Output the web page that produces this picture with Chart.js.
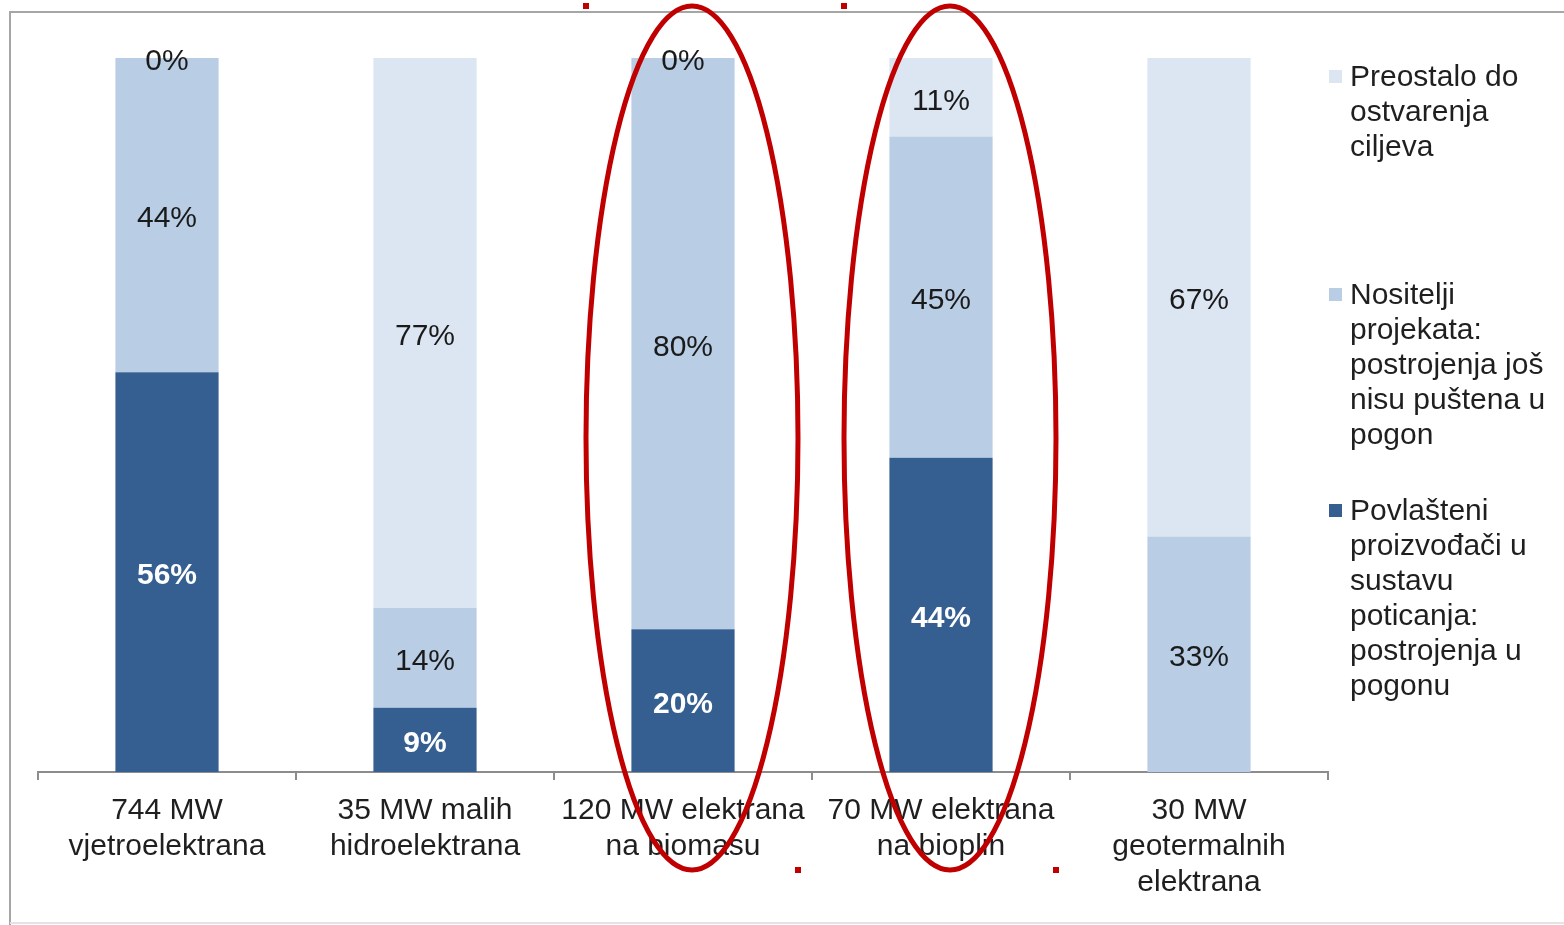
<!DOCTYPE html>
<html>
<head>
<meta charset="utf-8">
<script src="https://cdn.jsdelivr.net/npm/chart.js@4"></script>
<style>
  html, body { margin: 0; padding: 0; background: #fff; overflow: hidden; }
  #wrap { width: 1564px; height: 925px; position: relative; }
</style>
</head>
<body>
<div id="wrap"><canvas id="chart" width="1564" height="925"></canvas></div>
<script>
// categories (multi-line tick labels)
const categories = [
    ["744 MW", "vjetroelektrana"],
    ["35 MW malih", "hidroelektrana"],
    ["120 MW elektrana", "na biomasu"],
    ["70 MW elektrana", "na bioplin"],
    ["30 MW", "geotermalnih", "elektrana"]
];

// series values, in % (bottom to top of each stack)
const inOperation = [56, 9, 20, 44, 0];
const notYetOperating = [44, 14, 80, 45, 33];
const remaining = [0, 77, 0, 11, 67];

// legend text, already wrapped the way the original shows it
const legendInOperation = ["Povlašteni", "proizvođači u", "sustavu", "poticanja:", "postrojenja u", "pogonu"];
const legendNotYet = ["Nositelji", "projekata:", "postrojenja još", "nisu puštena u", "pogon"];
const legendRemaining = ["Preostalo do", "ostvarenja", "ciljeva"];

// categories that are circled in red
const highlighted = [2, 3];

const FONT = '"Liberation Sans", Arial, sans-serif';

// white background and the grey frame of the slide
const framePlugin = {
    id: 'frame',
    beforeDraw(chart) {
        const ctx = chart.ctx;
        ctx.save();
        ctx.fillStyle = '#fff';
        ctx.fillRect(0, 0, chart.width, chart.height);
        ctx.strokeStyle = '#a6a6a6';
        ctx.lineWidth = 2;
        ctx.beginPath();
        ctx.moveTo(10, chart.height);
        ctx.lineTo(10, 12);
        ctx.lineTo(chart.width, 12);
        ctx.stroke();
        ctx.strokeStyle = '#e4e4e4';
        ctx.beginPath();
        ctx.moveTo(10, chart.height - 2);
        ctx.lineTo(chart.width, chart.height - 2);
        ctx.stroke();
        ctx.restore();
    }
};

// percentage labels inside each segment
const segmentLabels = {
    id: 'segmentLabels',
    afterDatasetsDraw(chart) {
        const ctx = chart.ctx;
        const last = chart.data.datasets.length - 1;
        chart.data.datasets.forEach((ds, di) => {
            const meta = chart.getDatasetMeta(di);
            meta.data.forEach((bar, i) => {
                const v = ds.data[i];
                if (v === 0 && di !== last) return;
                const p = bar.getCenterPoint();
                ctx.save();
                ctx.font = (di === 0 ? 'bold ' : '') + '30px ' + FONT;
                ctx.fillStyle = di === 0 ? '#ffffff' : '#1a1a1a';
                ctx.textAlign = 'center';
                ctx.textBaseline = 'middle';
                ctx.fillText(v + '%', p.x, p.y + 4);
                ctx.restore();
            });
        });
    }
};

// legend on the right, with wrapped lines
const sideLegend = {
    id: 'sideLegend',
    afterDraw(chart) {
        const ctx = chart.ctx;
        const x = chart.chartArea.right;
        const tops = [78, 296, 512];
        const order = [2, 1, 0];
        ctx.save();
        ctx.font = '30px ' + FONT;
        ctx.textBaseline = 'middle';
        ctx.textAlign = 'left';
        order.forEach((di, k) => {
            const ds = chart.data.datasets[di];
            const y0 = tops[k];
            ctx.fillStyle = ds.backgroundColor;
            ctx.fillRect(x + 1, y0 - 8, 13, 13);
            ctx.fillStyle = '#1f1f1f';
            ds.legendLines.forEach((line, j) => {
                ctx.fillText(line, x + 22, y0 + j * 35);
            });
        });
        ctx.restore();
    }
};

// red ellipses with their little selection handles
const ellipses = {
    id: 'ellipses',
    afterDraw(chart) {
        const ctx = chart.ctx;
        const xs = chart.scales.x;
        const top = 6, bottom = 870, rx = 106;
        ctx.save();
        highlighted.forEach(i => {
            const cx = xs.getPixelForValue(i) + 9;
            const cy = (top + bottom) / 2;
            const ry = (bottom - top) / 2;
            ctx.strokeStyle = '#c00000';
            ctx.lineWidth = 5;
            ctx.beginPath();
            ctx.ellipse(cx, cy, rx, ry, 0, 0, Math.PI * 2);
            ctx.stroke();
            ctx.fillStyle = '#c00000';
            ctx.fillRect(cx - rx - 3, top - 3, 6, 6);
            ctx.fillRect(cx + rx - 3, bottom - 3, 6, 6);
        });
        ctx.restore();
    }
};

new Chart(document.getElementById('chart'), {
    type: 'bar',
    data: {
        labels: categories,
        datasets: [
            { label: legendInOperation.join(' '), legendLines: legendInOperation, data: inOperation, backgroundColor: '#365f91' },
            { label: legendNotYet.join(' '), legendLines: legendNotYet, data: notYetOperating, backgroundColor: '#b9cde5' },
            { label: legendRemaining.join(' '), legendLines: legendRemaining, data: remaining, backgroundColor: '#dce6f2' }
        ]
    },
    options: {
        responsive: false,
        animation: false,
        devicePixelRatio: 1,
        categoryPercentage: 1,
        barPercentage: 0.4,
        layout: { padding: { left: 38, right: 236, top: 58, bottom: 3 } },
        plugins: {
            legend: { display: false },
            tooltip: { enabled: false }
        },
        scales: {
            x: {
                stacked: true,
                afterFit(scale) { scale.height = 150; },
                border: { display: true, color: '#8c8c8c', width: 2 },
                grid: {
                    offset: true,
                    drawOnChartArea: false,
                    drawTicks: true,
                    tickLength: 8,
                    color: '#8c8c8c',
                    lineWidth: 2
                },
                ticks: {
                    color: '#1f1f1f',
                    padding: 13,
                    maxRotation: 0,
                    autoSkip: false,
                    font: { family: FONT, size: 30, lineHeight: 1.2 }
                }
            },
            y: {
                stacked: true,
                display: false,
                min: 0,
                max: 100
            }
        }
    },
    plugins: [framePlugin, segmentLabels, sideLegend, ellipses]
});
</script>
</body>
</html>
